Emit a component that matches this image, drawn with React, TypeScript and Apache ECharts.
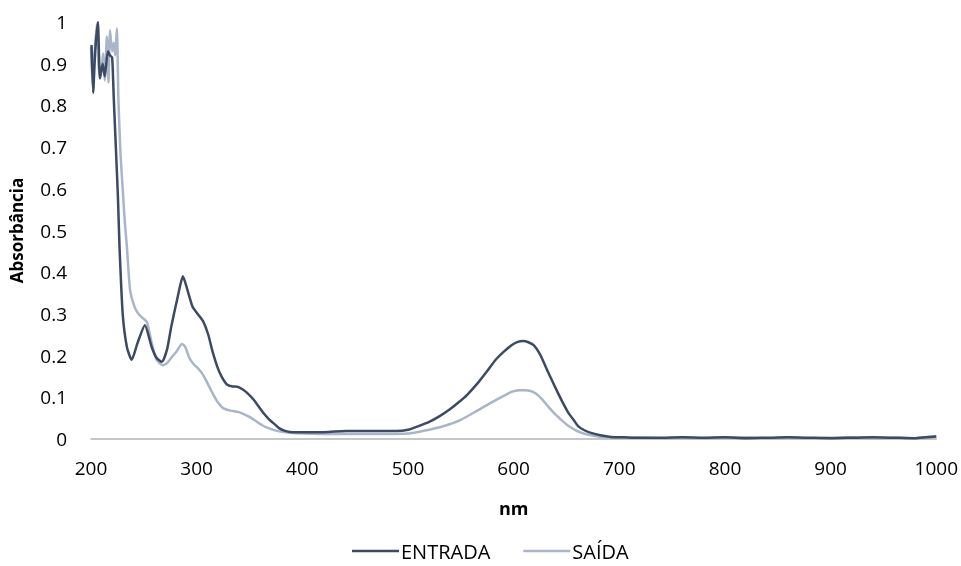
import { useEffect, useRef } from "react";
import * as echarts from "echarts";

const xTicks = [200, 1000, 100];
const yTicks = [0, 1, 0.1];

const entradaNm = [
  200.5, 202, 204, 206.5, 208.5, 211, 213, 216, 218, 220, 221.5, 223.5, 225.5, 227, 230, 234, 238.5, 244, 251,
  257.5, 262, 267, 272, 276, 282, 287, 291, 296, 301, 306, 311, 315, 320, 324, 329, 334, 339, 344, 348, 354, 359,
  364, 369, 374, 378, 383, 388, 395, 409, 425, 441, 460, 475, 489, 500, 510, 520, 530, 540, 548, 556, 567, 575,
  583, 591, 598, 604, 609, 614, 619, 625, 630, 636, 642, 647, 652, 657, 661, 667, 674, 682, 692, 705, 720, 740,
  760, 780, 800, 820, 840, 860, 880, 900, 920, 940, 960, 980, 990, 1000,
];
const entradaAbs = [
  0.945, 0.83, 0.93, 1.0, 0.865, 0.9, 0.87, 0.93, 0.92, 0.915, 0.82, 0.7, 0.58, 0.46, 0.3, 0.22, 0.19, 0.23, 0.273,
  0.22, 0.195, 0.185, 0.215, 0.27, 0.34, 0.39, 0.36, 0.318, 0.3, 0.283, 0.25, 0.21, 0.17, 0.148, 0.13, 0.126, 0.125,
  0.118, 0.11, 0.094, 0.077, 0.06, 0.046, 0.035, 0.026, 0.02, 0.017, 0.016, 0.016, 0.017, 0.019, 0.019, 0.019, 0.019,
  0.022, 0.031, 0.041, 0.055, 0.072, 0.088, 0.106, 0.137, 0.163, 0.19, 0.21, 0.225, 0.233, 0.235, 0.232, 0.225,
  0.203, 0.175, 0.142, 0.11, 0.085, 0.062, 0.045, 0.031, 0.021, 0.014, 0.009, 0.005, 0.004, 0.003, 0.003, 0.004,
  0.003, 0.004, 0.002, 0.003, 0.004, 0.003, 0.002, 0.003, 0.004, 0.003, 0.002, 0.004, 0.006,
];

const saidaNm = [
  200, 201.5, 203.5, 205.5, 207, 208.5, 210.5, 211.5, 213, 215, 216.5, 218, 220, 221.5, 223, 224.5, 226, 228, 230,
  232, 234, 237, 241.5, 245, 249, 253, 257.5, 262, 268, 272, 276, 281, 286, 289, 293, 297, 301, 305, 309, 315, 320,
  325, 332, 339, 345, 350, 356, 362, 368, 375, 384, 394, 420, 450, 480, 500, 510, 520, 530, 540, 550, 560, 567,
  575, 583, 591, 598, 605, 611, 616, 621, 627, 633, 639, 645, 651, 658, 664, 671, 680, 690, 700, 720, 740, 760,
  780, 800, 820, 840, 860, 880, 900, 920, 940, 960, 980, 990, 1000,
];
const saidaAbs = [
  0.94, 0.85, 0.93, 0.995, 0.9, 0.865, 0.9, 0.925, 0.86, 0.965, 0.855, 0.98, 0.93, 0.95, 0.92, 0.985, 0.81, 0.68,
  0.6, 0.52, 0.46, 0.357, 0.315, 0.3, 0.29, 0.28, 0.23, 0.19, 0.177, 0.182, 0.195, 0.21, 0.228, 0.222, 0.195, 0.18,
  0.17, 0.158, 0.14, 0.11, 0.088, 0.074, 0.068, 0.065, 0.059, 0.053, 0.043, 0.033, 0.026, 0.02, 0.016, 0.014, 0.012,
  0.012, 0.012, 0.013, 0.017, 0.022, 0.028, 0.036, 0.046, 0.06, 0.07, 0.082, 0.093, 0.104, 0.113, 0.117, 0.117,
  0.115, 0.109, 0.095, 0.077, 0.06, 0.046, 0.033, 0.022, 0.015, 0.01, 0.006, 0.004, 0.003, 0.003, 0.002, 0.003,
  0.002, 0.003, 0.004, 0.002, 0.003, 0.002, 0.003, 0.004, 0.002, 0.003, 0.002, 0.004, 0.007,
];

const font = "'Open Sans', 'DejaVu Sans', sans-serif";

export default function App() {
  const ref = useRef<HTMLDivElement>(null);
  useEffect(() => {
    if (!ref.current) return;
    const chart = echarts.init(ref.current, null, { renderer: "svg" });
    const line = (name: string, nm: number[], abs: number[], color: string) => ({
      name,
      type: "line",
      data: nm.map((x, i) => [x, abs[i]]),
      symbol: "none",
      smooth: 0.2,
      lineStyle: { color, width: 2.5, join: "round" },
      itemStyle: { color },
    });
    chart.setOption({
      animation: false,
      textStyle: { fontFamily: font },
      grid: { left: 91, right: 22, top: 22, bottom: 127 },
      xAxis: {
        type: "value",
        min: xTicks[0],
        max: xTicks[1],
        interval: xTicks[2],
        name: "nm",
        nameLocation: "middle",
        nameGap: 60,
        nameTextStyle: { fontFamily: font, fontSize: 18, fontWeight: "bold", color: "#000" },
        axisLine: { lineStyle: { color: "#b3b3b3", width: 1.5 } },
        axisTick: { show: false },
        splitLine: { show: false },
        axisLabel: { fontFamily: font, fontSize: 19, color: "#000", margin: 19, formatter: (v: number) => String(v) },
      },
      yAxis: {
        type: "value",
        min: yTicks[0],
        max: yTicks[1],
        interval: yTicks[2],
        name: "Absorbância",
        nameLocation: "middle",
        nameGap: 66,
        nameTextStyle: { fontFamily: font, fontSize: 17, fontWeight: "bold", color: "#000" },
        axisLine: { show: false },
        axisTick: { show: false },
        splitLine: { show: false },
        axisLabel: {
          fontFamily: font,
          fontSize: 19,
          color: "#000",
          margin: 24,
          formatter: (v: number) => String(+v.toFixed(1)),
        },
      },
      legend: {
        left: 347,
        top: 536,
        icon: "rect",
        itemWidth: 47,
        itemHeight: 2.5,
        itemGap: 33,
        textStyle: { fontFamily: font, fontSize: 20, color: "#000", padding: [0, 0, 0, -3] },
        data: ["ENTRADA", "SAÍDA"],
      },
      series: [
        line("SAÍDA", saidaNm, saidaAbs, "#a9b5c9"),
        line("ENTRADA", entradaNm, entradaAbs, "#3c4a64"),
      ],
    });
    return () => chart.dispose();
  }, []);
  return <div ref={ref} style={{ position: "fixed", left: 0, top: 0, width: 961, height: 566 }} />;
}
